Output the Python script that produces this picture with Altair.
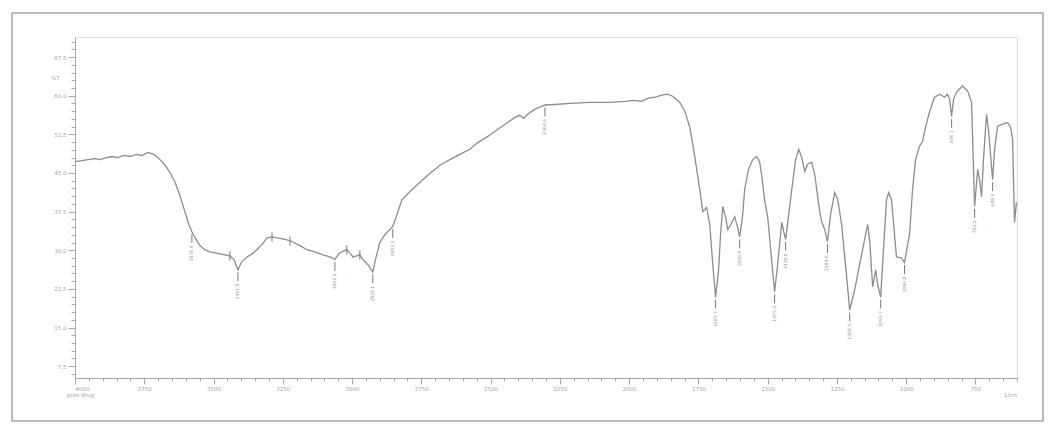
import altair as alt
import pandas as pd

# ---- spectrum (wavenumber in 1/cm, transmittance in %T) ----
wavenumber = [4000, 3975, 3953, 3928, 3910, 3888, 3867, 3845, 3823, 3802, 3780, 3758, 3737, 3715, 3693,
              3675, 3657, 3639, 3621, 3614, 3600, 3589, 3578, 3563, 3549, 3531, 3513, 3477, 3441, 3426,
              3412, 3398, 3379, 3361, 3343, 3325, 3307, 3289, 3271, 3242, 3217, 3188, 3163, 3134, 3105,
              3080, 3062, 3048, 3037, 3019, 3008, 2997, 2983, 2972, 2961, 2943, 2925, 2914, 2900, 2882,
              2864, 2853, 2842, 2820, 2791, 2755, 2719, 2683, 2647, 2611, 2575, 2546, 2510, 2474, 2438,
              2413, 2395, 2380, 2366, 2340, 2304, 2268, 2214, 2142, 2070, 2016, 1980, 1955, 1933, 1908,
              1882, 1861, 1843, 1817, 1799, 1781, 1767, 1756, 1745, 1734, 1720, 1709, 1698, 1688, 1677,
              1670, 1662, 1651, 1644, 1633, 1619, 1608, 1601, 1590, 1583, 1569, 1554, 1540, 1529, 1522,
              1511, 1500, 1489, 1475, 1464, 1449, 1442, 1435, 1424, 1413, 1399, 1388, 1377, 1366, 1356,
              1341, 1330, 1323, 1312, 1305, 1294, 1284, 1273, 1258, 1247, 1233, 1219, 1204, 1186, 1168,
              1150, 1139, 1132, 1121, 1110, 1103, 1092, 1082, 1071, 1063, 1053, 1042, 1035, 1017, 1006,
              995, 988, 977, 966, 952, 941, 930, 916, 898, 879, 861, 851, 843, 836, 829,
              818, 807, 797, 786, 778, 764, 753, 742, 735, 728, 721, 710, 703, 688, 681,
              670, 652, 634, 623, 616, 609, 602]
transmittance = [47.2, 47.4, 47.6, 47.8, 47.6, 48.0, 48.2, 48.0, 48.4, 48.2, 48.6, 48.4, 49.0, 48.6, 47.6,
                 46.5, 45.1, 43.2, 40.6, 39.3, 36.9, 35.0, 33.6, 32.1, 30.9, 30.1, 29.7, 29.3, 28.9, 28.2,
                 26.2, 27.8, 28.7, 29.3, 30.1, 31.1, 32.4, 32.6, 32.4, 32.1, 31.7, 30.9, 30.1, 29.7, 29.1,
                 28.7, 28.2, 29.3, 29.7, 30.1, 29.5, 28.7, 28.9, 29.1, 28.2, 27.2, 25.8, 28.5, 31.5, 33.0,
                 34.0, 34.6, 36.3, 39.8, 41.4, 43.2, 44.9, 46.5, 47.6, 48.6, 49.6, 50.9, 52.1, 53.5, 54.8,
                 55.8, 56.2, 55.6, 56.4, 57.4, 58.2, 58.3, 58.5, 58.7, 58.7, 58.9, 59.1, 58.9, 59.5, 59.7,
                 60.1, 60.3, 59.9, 58.7, 57.0, 53.9, 49.6, 45.7, 41.8, 37.5, 38.3, 35.0, 27.2, 20.9, 26.2,
                 33.0, 38.5, 36.3, 34.0, 35.0, 36.5, 34.4, 32.6, 36.9, 41.8, 45.7, 47.6, 48.2, 47.2, 44.7,
                 39.8, 36.5, 30.1, 21.9, 27.2, 35.4, 33.6, 32.1, 36.9, 41.8, 47.6, 49.6, 48.0, 45.3, 46.7,
                 47.1, 44.7, 41.8, 37.5, 35.6, 34.0, 31.7, 36.9, 41.2, 39.8, 35.0, 27.2, 18.4, 22.3, 27.2,
                 32.1, 35.0, 32.1, 22.9, 26.2, 23.3, 20.9, 30.1, 39.8, 41.2, 39.8, 33.0, 28.7, 28.5, 27.6,
                 31.1, 33.0, 41.8, 47.6, 50.2, 51.1, 53.9, 56.8, 59.7, 60.3, 59.7, 60.3, 59.3, 56.0, 59.3,
                 60.7, 61.3, 61.9, 61.3, 60.9, 58.7, 38.5, 45.7, 43.7, 40.4, 47.6, 56.4, 53.5, 43.7, 49.6,
                 54.1, 54.5, 54.8, 53.9, 51.5, 35.4, 39.3]

# ---- labelled peaks ----
peak_wn = [3578, 3412, 3062, 2925, 2853, 2304, 1688, 1601, 1475, 1435, 1284, 1204, 1092, 1006, 836, 753, 688]
peak_T = [33.6, 26.2, 28.2, 25.8, 34.6, 58.2, 20.9, 32.6, 21.9, 32.1, 31.7, 18.4, 20.9, 27.6, 56.0, 38.5, 43.7]
peak_text = ["3578.4", "3411.9", "3062.2", "2925.1", "2853.3", "2304.6", "1687.7", "1600.9", "1475.5",
             "1435.0", "1284.6", "1204.5", "1091.7", "1006.8", "836.1", "752.2", "688.6"]
# small cross marks without visible text
mark_wn = [3441, 3289, 3224, 3019, 2972]
mark_T = [28.9, 32.6, 31.8, 30.1, 29.1]

# ---- axis tick values ----
x_major = [4000, 3750, 3500, 3250, 3000, 2750, 2500, 2250, 2000, 1750, 1500, 1250, 1000, 750]
x_minor = list(range(4000, 599, -50))
y_major = [67.5, 60.0, 52.5, 45.0, 37.5, 30.0, 22.5, 15.0, 7.5]
y_minor = [round(6.0 + 1.5 * i, 1) for i in range(44)]

spec = pd.DataFrame({"wn": wavenumber, "T": transmittance})
peaks = pd.DataFrame({"wn": peak_wn, "T": peak_T, "label": peak_text})
peaks["y1"] = peaks["T"] - 0.5
peaks["y2"] = peaks["T"] - 2.2
peaks["ty"] = peaks["T"] - 2.7
marks = pd.DataFrame({"wn": mark_wn, "T": mark_T})
marks["y1"] = marks["T"] + 0.9
marks["y2"] = marks["T"] - 0.9

xscale = alt.Scale(domain=[4000, 600], nice=False, zero=False)
yscale = alt.Scale(domain=[5.2, 71.4], nice=False, zero=False)

AX = "#a8a8a8"
LAB = "#a3a3a3"

line = alt.Chart(spec).mark_line(color="#8c8c8c", strokeWidth=1.3).encode(
    x=alt.X("wn:Q", scale=xscale, axis=alt.Axis(
        orient="bottom", values=x_major, format="d", tickSize=6, tickColor=AX, domainColor=AX,
        labelFontSize=5.5, labelColor=LAB, labelPadding=2, grid=False,
        title="1/cm", titleFontSize=5.5, titleFontWeight="normal", titleColor=LAB,
        titleX=935, titleY=16, titleAlign="center", titleBaseline="middle")),
    y=alt.Y("T:Q", scale=yscale, axis=alt.Axis(
        orient="left", values=y_major, format=".1f", tickSize=7, tickColor=AX, domainColor=AX,
        labelFontSize=5.5, labelColor=LAB, labelPadding=2, grid=False,
        title="%T", titleAngle=0, titleFontSize=5.5, titleFontWeight="normal", titleColor=LAB,
        titleX=-20, titleY=40, titleAlign="center", titleBaseline="middle")),
)

minor = alt.Chart(spec).mark_line(opacity=0).encode(
    x=alt.X("wn:Q", scale=xscale, axis=alt.Axis(
        orient="bottom", values=x_minor, labels=False, tickSize=3, tickColor=AX,
        domain=False, grid=False, title=None)),
    y=alt.Y("T:Q", scale=yscale, axis=alt.Axis(
        orient="left", values=y_minor, labels=False, tickSize=4, tickColor=AX,
        domain=False, grid=False, title=None)),
)

rules = alt.Chart(peaks).mark_rule(color="#777777", strokeWidth=1).encode(
    x=alt.X("wn:Q", scale=xscale, axis=None),
    y=alt.Y("y1:Q", scale=yscale, axis=None),
    y2="y2:Q",
)
texts = alt.Chart(peaks).mark_text(angle=270, align="right", baseline="middle",
                                    fontSize=4.5, color="#999999").encode(
    x=alt.X("wn:Q", scale=xscale, axis=None),
    y=alt.Y("ty:Q", scale=yscale, axis=None),
    text="label:N",
)
crosses = alt.Chart(marks).mark_rule(color="#777777", strokeWidth=1).encode(
    x=alt.X("wn:Q", scale=xscale, axis=None),
    y=alt.Y("y1:Q", scale=yscale, axis=None),
    y2="y2:Q",
)

one = pd.DataFrame({"t": ["pure drug"]})
caption = alt.Chart(one).mark_text(align="left", baseline="middle", fontSize=5.5, color=LAB).encode(
    x=alt.value(-8), y=alt.value(358), text="t:N")
frame = alt.Chart(one).mark_rect(fillOpacity=0, stroke="#777777", strokeWidth=1).encode(
    x=alt.value(-63), x2=alt.value(968), y=alt.value(-24), y2=alt.value(384))

chart = alt.layer(frame, line, minor, rules, crosses, texts, caption).resolve_axis(
    x="independent", y="independent"
).properties(
    width=942, height=341,
    padding={"left": 67, "top": 29, "right": 31, "bottom": 50},
    autosize=alt.AutoSizeParams(type="none"),
    background="white",
).configure_view(strokeWidth=0).configure(font="DejaVu Sans")

chart.save("out.html", embed_options={"renderer": "svg", "actions": False})
